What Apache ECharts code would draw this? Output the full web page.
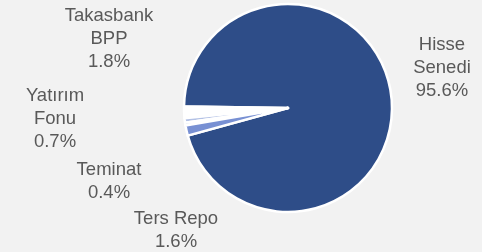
<!DOCTYPE html>
<html>
<head>
<meta charset="utf-8">
<script src="https://cdn.jsdelivr.net/npm/echarts@6/dist/echarts.min.js"></script>
<style>
html,body{margin:0;padding:0;background:#F2F2F2;}
#c{width:482px;height:252px;}
</style>
</head>
<body>
<div id="c"></div>
<script>
var categories = ["Hisse\nSenedi", "Takasbank\nBPP", "Yatırım\nFonu", "Teminat", "Ters Repo"];
var values = [95.6, 1.8, 0.7, 0.4, 1.6];
var colors = ["#2E4D88", "#FFFFFF", "#B3C1E5", "#B3C1E5", "#7890D3"];
var labelPos = [[442, 68], [109, 39], [55, 119], [109, 181], [176, 230]];

var chart = echarts.init(document.getElementById('c'), null, {renderer: 'canvas'});
chart.setOption({
  backgroundColor: '#F2F2F2',
  animation: false,
  series: [{
    type: 'pie',
    center: [288, 108],
    radius: 104,
    clockwise: false,
    startAngle: 195.4,
    avoidLabelOverlap: false,
    itemStyle: {borderColor: '#FFFFFF', borderWidth: 2.5},
    label: {
      show: true,
      position: 'outside',
      color: '#595959',
      fontFamily: 'Liberation Sans',
      fontSize: 18.5,
      lineHeight: 23,
      align: 'center',
      formatter: function (p) { return p.name + '\n' + p.value.toFixed(1) + '%'; }
    },
    labelLine: {show: false},
    labelLayout: function (p) {
      var pos = labelPos[p.dataIndex];
      return {x: pos[0], y: pos[1], align: 'center', verticalAlign: 'middle'};
    },
    data: categories.map(function (n, i) {
      return {name: n, value: values[i], itemStyle: {color: colors[i]}};
    })
  }]
});
</script>
</body>
</html>
